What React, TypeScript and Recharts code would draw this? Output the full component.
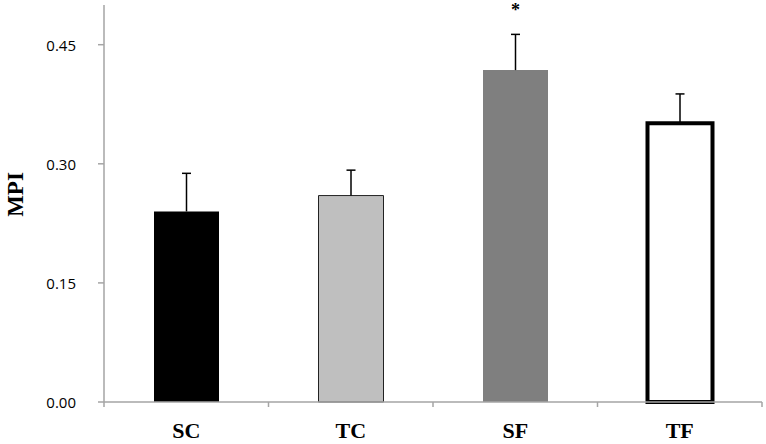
import { BarChart, Bar, XAxis, YAxis, Cell, LabelList } from "recharts";

const groups = ["SC", "TC", "SF", "TF"];
const means = [0.24, 0.26, 0.418, 0.351];
const sems = [0.048, 0.032, 0.045, 0.037];
const marks = ["", "", "*", ""];
const yTicks = [0, 0.15, 0.3, 0.45];

const fills = ["#000000", "#bfbfbf", "#7f7f7f", "#ffffff"];
const strokes = ["none", "#222222", "none", "#000000"];
const strokeWidths = [0, 1, 0, 4];

const data = groups.map((g, i) => ({ group: g, mean: means[i], sem: sems[i], mark: marks[i] }));

const AXIS = "#a5a5a5";
const SERIF = "'Liberation Serif', 'Times New Roman', serif";

// upper half of the error bar, drawn as the stacked segment above the mean
function ErrorShape(props: any) {
  const { x, y, width, height } = props;
  const cx = x + width / 2;
  return (
    <g stroke="#000" strokeWidth={1.5}>
      <line x1={cx} x2={cx} y1={y + height} y2={y} />
      <line x1={cx - 4.5} x2={cx + 4.5} y1={y} y2={y} />
    </g>
  );
}

// category label plus tick marks between the groups
function GroupTick(props: any) {
  const { x, y, payload, index, visibleTicksCount, width } = props;
  const half = payload.offset || (width ? width / visibleTicksCount / 2 : 82);
  return (
    <g>
      <line x1={x - half} x2={x - half} y1={y} y2={y + 5} stroke={AXIS} strokeWidth={1.5} />
      {index === visibleTicksCount - 1 && (
        <line x1={x + half} x2={x + half} y1={y} y2={y + 5} stroke={AXIS} strokeWidth={1.5} />
      )}
      <text x={x} y={y + 36} textAnchor="middle" fontFamily={SERIF} fontWeight="bold" fontSize={22} fill="#000">
        {payload.value}
      </text>
    </g>
  );
}

function ValueTick(props: any) {
  const { y, payload } = props;
  return (
    <text x={76} y={y} textAnchor="end" dominantBaseline="central" fontFamily="'Open Sans', sans-serif"
      fontSize={15} fill="#000">
      {Number(payload.value).toFixed(2)}
    </text>
  );
}

function MarkLabel(props: any) {
  const { x, y, width, value } = props;
  if (!value) return null;
  return (
    <text x={x + width / 2} y={y - 18} textAnchor="middle" fontFamily={SERIF} fontWeight="bold" fontSize={18} fill="#000">
      {value}
    </text>
  );
}

function AxisTitle(props: any) {
  const { viewBox } = props;
  const cx = viewBox.x + 15;
  const cy = viewBox.y + viewBox.height / 2 - 9;
  return (
    <text x={cx} y={cy} transform={`rotate(-90, ${cx}, ${cy})`} textAnchor="middle" dominantBaseline="central"
      fontFamily={SERIF} fontWeight="bold" fontSize={23} fill="#000">
      MPI
    </text>
  );
}

export default function App() {
  return (
    <div style={{ position: "absolute", left: 0, top: 0, background: "#fff" }}>
      <BarChart width={766} height={444} data={data} margin={{ top: 5, right: 4, bottom: 0, left: 0 }} barSize={65}>
        <XAxis
          dataKey="group"
          height={42}
          axisLine={{ stroke: AXIS, strokeWidth: 1.5 }}
          tickLine={false}
          tickSize={0}
          tickMargin={0}
          tick={<GroupTick />}
          interval={0}
        />
        <YAxis
          width={104}
          domain={[0, 0.5]}
          ticks={yTicks}
          axisLine={{ stroke: AXIS, strokeWidth: 1.5 }}
          tickLine={{ stroke: AXIS, strokeWidth: 1.5 }}
          tickSize={6}
          tick={<ValueTick />}
          label={<AxisTitle />}
        />
        <Bar dataKey="mean" stackId="a" isAnimationActive={false}>
          {data.map((d, i) => (
            <Cell key={d.group} fill={fills[i]} stroke={strokes[i]} strokeWidth={strokeWidths[i]} />
          ))}
        </Bar>
        <Bar dataKey="sem" stackId="a" fill="none" shape={<ErrorShape />} isAnimationActive={false}>
          <LabelList dataKey="mark" content={<MarkLabel />} />
        </Bar>
      </BarChart>
    </div>
  );
}
